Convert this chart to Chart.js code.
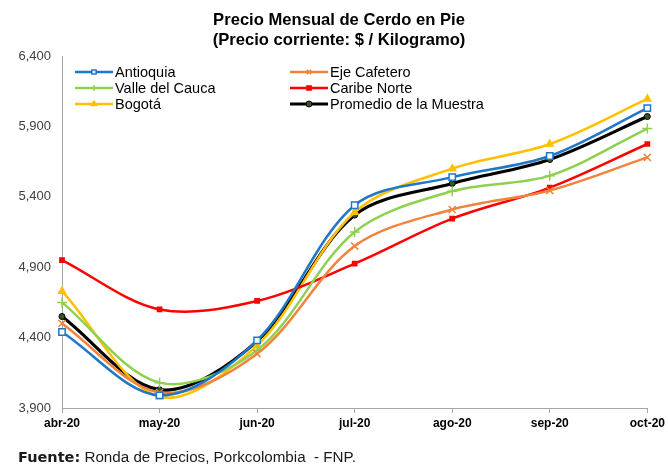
<!DOCTYPE html>
<html>
<head>
<meta charset="utf-8">
<script src="https://cdn.jsdelivr.net/npm/chart.js@4.4.0/dist/chart.umd.min.js"></script>
<style>
  html, body { margin: 0; padding: 0; background: #fff; }
  #wrap { width: 668px; height: 464px; position: relative; }
</style>
</head>
<body>
<div id="wrap"><canvas id="grafico" width="668" height="464"></canvas></div>
<script>
// Precio mensual de cerdo en pie, $ / kg
const meses = ['abr-20', 'may-20', 'jun-20', 'jul-20', 'ago-20', 'sep-20', 'oct-20'];
const antioquia   = [4440, 3990, 4380, 5340, 5540, 5690, 6030];
const ejeCafetero = [4500, 4010, 4285, 5050, 5310, 5445, 5680];
const valleCauca  = [4650, 4080, 4310, 5150, 5440, 5550, 5885];
const caribeNorte = [4950, 4600, 4660, 4925, 5245, 5465, 5775];
const bogota      = [4730, 3980, 4345, 5290, 5600, 5775, 6095];
const promedio    = [4550, 4030, 4375, 5270, 5495, 5665, 5970];

const ejeY = { min: 3900, max: 6400, paso: 500 };

const titulo = ['Precio Mensual de Cerdo en Pie', '(Precio corriente: $ / Kilogramo)'];
const fuente = ['Fuente:', ' Ronda de Precios, Porkcolombia  - FNP.'];

const FUENTE = "'Liberation Sans', Arial, sans-serif";
const FUENTE_ANGOSTA = "'Liberation Sans Narrow', 'Arial Narrow', 'Liberation Sans', sans-serif";

function serie(label, data, color, estilo, extra) {
  return Object.assign({
    label,
    data,
    borderColor: color,
    backgroundColor: color,
    borderWidth: 2.5,
    tension: 0.33,
    pointStyle: estilo,
    pointRadius: 4,
    pointBorderColor: color,
    pointBackgroundColor: color,
    pointBorderWidth: 1.5,
  }, extra || {});
}

const datasets = [
  serie('Antioquia', antioquia, '#1f77c8', 'rect', { pointBackgroundColor: '#ffffff', pointRadius: 4.5 }),
  serie('Eje Cafetero', ejeCafetero, '#f0843c', 'crossRot', { pointRadius: 5 }),
  serie('Valle del Cauca', valleCauca, '#8fd14f', 'cross', { pointRadius: 5 }),
  serie('Caribe Norte', caribeNorte, '#ff0000', 'rect', { pointRadius: 3 }),
  serie('Bogotá', bogota, '#ffc000', 'triangle', { pointRadius: 4 }),
  serie('Promedio de la Muestra', promedio, '#000000', 'circle', {
    borderWidth: 3.2, pointRadius: 3, pointBackgroundColor: '#375623', pointBorderWidth: 1,
  }),
];

// Título, leyenda de dos columnas y nota de fuente dibujados sobre el canvas
const decoracion = {
  id: 'decoracion',
  afterDraw(chart) {
    const ctx = chart.ctx;
    ctx.save();
    ctx.fillStyle = '#000';
    ctx.textAlign = 'center';
    ctx.textBaseline = 'middle';
    ctx.font = 'bold 16.6px ' + FUENTE;
    ctx.fillText(titulo[0], 339, 20);
    ctx.fillText(titulo[1], 339, 40);

    // leyenda
    ctx.textAlign = 'left';
    ctx.font = '14.5px ' + FUENTE;
    chart.data.datasets.forEach((ds, i) => {
      const x0 = i % 2 === 0 ? 75 : 290;
      const y = 72 + Math.floor(i / 2) * 16;
      ctx.strokeStyle = ds.borderColor;
      ctx.lineWidth = ds.borderWidth;
      ctx.beginPath();
      ctx.moveTo(x0, y);
      ctx.lineTo(x0 + 38, y);
      ctx.stroke();
      ctx.fillStyle = ds.pointBackgroundColor;
      ctx.strokeStyle = ds.pointBorderColor;
      ctx.lineWidth = ds.pointBorderWidth;
      Chart.helpers.drawPoint(ctx, {
        pointStyle: ds.pointStyle, radius: Math.min(ds.pointRadius, 3),
        rotation: 0, borderWidth: ds.pointBorderWidth,
      }, x0 + 19, y);
      ctx.fillStyle = '#000';
      ctx.fillText(ds.label, x0 + 40, y + 1);
    });

    // fuente
    ctx.font = "bold 14.5px 'DejaVu Sans', " + FUENTE;
    ctx.fillStyle = '#1a1a1a';
    ctx.fillText(fuente[0], 18, 458);
    const w = ctx.measureText(fuente[0]).width;
    ctx.font = '15.2px ' + FUENTE;
    ctx.fillText(fuente[1], 18 + w, 458);
    ctx.restore();
  },
};

new Chart(document.getElementById('grafico'), {
  type: 'line',
  data: { labels: meses, datasets },
  options: {
    responsive: false,
    animation: false,
    layout: { padding: { top: 56, right: 20, left: 0, bottom: 0 } },
    plugins: {
      legend: { display: false },
      tooltip: { enabled: false },
    },
    scales: {
      x: {
        offset: false,
        afterFit: (s) => { s.height = 56; },
        grid: { drawOnChartArea: false, drawTicks: true, tickLength: 5, color: '#a6a6a6' },
        border: { color: '#a6a6a6', width: 1 },
        ticks: {
          autoSkip: false, maxRotation: 0, padding: 3, color: '#000',
          font: { family: FUENTE_ANGOSTA, size: 12, weight: 'bold' },
        },
      },
      y: {
        min: ejeY.min,
        max: ejeY.max,
        afterFit: (s) => { s.width = 62; },
        grid: { display: false, drawTicks: false },
        border: { color: '#a6a6a6', width: 1 },
        ticks: {
          stepSize: ejeY.paso, padding: 11, color: '#404040',
          font: { family: FUENTE, size: 13 },
          callback: (v) => v.toLocaleString('en-US'),
        },
      },
    },
  },
  plugins: [decoracion],
});
</script>
</body>
</html>
